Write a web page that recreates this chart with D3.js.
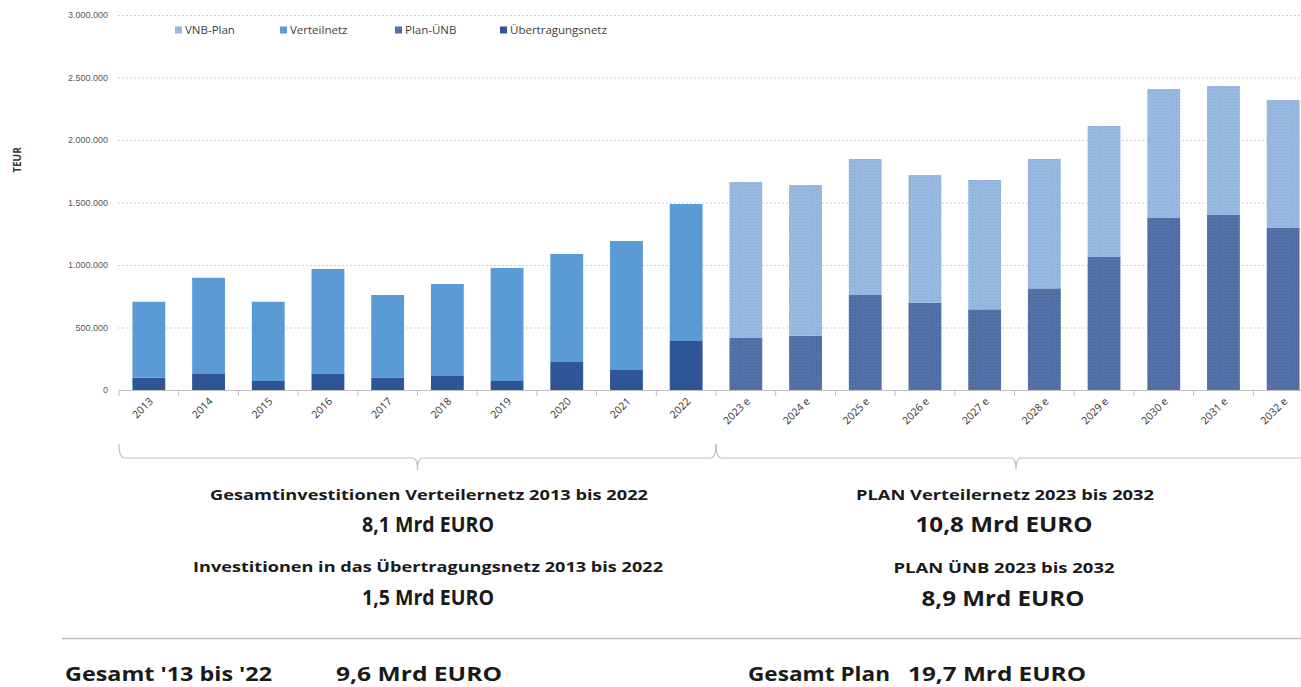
<!DOCTYPE html>
<html>
<head>
<meta charset="utf-8">
<script src="https://cdn.jsdelivr.net/npm/d3@7"></script>
<style>
  body { margin: 0; background: #fff; }
  text { font-family: "Open Sans", "Noto Sans", sans-serif; }
</style>
</head>
<body>
<div id="chart"></div>
<script>
// years and values (TEUR)
var years = ["2013","2014","2015","2016","2017","2018","2019","2020","2021","2022",
             "2023 e","2024 e","2025 e","2026 e","2027 e","2028 e","2029 e","2030 e","2031 e","2032 e"];
var uebertragungsnetz = [99,128,72,133,100,112,72,224,160,392, 0,0,0,0,0,0,0,0,0,0];
var verteilnetz = [607,770,634,835,660,736,904,864,1032,1096, 0,0,0,0,0,0,0,0,0,0];
var planUenb = [0,0,0,0,0,0,0,0,0,0, 416,435,760,699,645,813,1064,1376,1400,1296];
var vnbPlan = [0,0,0,0,0,0,0,0,0,0, 1248,1205,1088,1021,1035,1035,1048,1032,1032,1024];
var yTicks = [0, 500000, 1000000, 1500000, 2000000, 2500000, 3000000];

var seriesNames = ["VNB-Plan", "Verteilnetz", "Plan-ÜNB", "Übertragungsnetz"];
// stacking order from bottom to top
var stackKeys = ["Übertragungsnetz", "Plan-ÜNB", "Verteilnetz", "VNB-Plan"];

var rows = years.map(function(y, i) {
  return {
    year: y,
    "Übertragungsnetz": uebertragungsnetz[i] * 1000,
    "Plan-ÜNB": planUenb[i] * 1000,
    "Verteilnetz": verteilnetz[i] * 1000,
    "VNB-Plan": vnbPlan[i] * 1000
  };
});

var width = 1301, height = 687;

var svg = d3.select("#chart").append("svg")
  .attr("width", width)
  .attr("height", height);

// hatch-like patterns for the plan series
var defs = svg.append("defs");
function dotPattern(id, base, dot) {
  var p = defs.append("pattern")
    .attr("id", id)
    .attr("patternUnits", "userSpaceOnUse")
    .attr("width", 3).attr("height", 3);
  p.append("rect").attr("width", 3).attr("height", 3).attr("fill", base);
  p.append("rect").attr("x", 0).attr("y", 0).attr("width", 1).attr("height", 1).attr("fill", dot);
  p.append("rect").attr("x", 1.5).attr("y", 1.5).attr("width", 1).attr("height", 1).attr("fill", dot);
}
dotPattern("pVnb", "#9bbde3", "#7fa4d0");
dotPattern("pUenb", "#5774ab", "#3e5b95");

var color = {
  "VNB-Plan": "url(#pVnb)",
  "Verteilnetz": "#5b9bd5",
  "Plan-ÜNB": "url(#pUenb)",
  "Übertragungsnetz": "#2f5597"
};

var x = d3.scaleBand()
  .domain(years)
  .range([119, 1313])
  .paddingInner(0.45)
  .paddingOuter(0.225);

var y = d3.scaleLinear()
  .domain([0, 3000000])
  .range([390, 15]);

var de = d3.formatLocale({decimal: ",", thousands: ".", grouping: [3], currency: ["", "€"]});
var fmt = de.format(",");

// gridlines
svg.append("g")
  .selectAll("line")
  .data(yTicks.filter(function(d) { return d > 0; }))
  .enter().append("line")
    .attr("x1", 118).attr("x2", width)
    .attr("y1", function(d) { return y(d) + 0.5; })
    .attr("y2", function(d) { return y(d) + 0.5; })
    .attr("stroke", "#d0d0d0")
    .attr("stroke-dasharray", "2,2");

// y labels
var yAxis = svg.append("g")
  .attr("transform", "translate(118,0)")
  .call(d3.axisLeft(y).tickValues(yTicks).tickFormat(fmt).tickSize(0).tickPadding(10));
yAxis.select(".domain").remove();
yAxis.selectAll("text")
  .attr("fill", "#595959")
  .style("font-size", "9px")
  .style("font-family", "'Liberation Sans Narrow', 'Liberation Sans', sans-serif");

svg.append("text")
  .attr("transform", "translate(21,160) rotate(-90)")
  .attr("text-anchor", "middle")
  .attr("fill", "#333")
  .style("font-size", "10px")
  .style("font-weight", "bold")
  .text("TEUR");

// bars
var stacked = d3.stack().keys(stackKeys)(rows);
svg.append("g")
  .selectAll("g")
  .data(stacked)
  .enter().append("g")
    .attr("fill", function(d) { return color[d.key]; })
  .selectAll("rect")
  .data(function(d) { return d; })
  .enter().append("rect")
    .attr("x", function(d) { return x(d.data.year); })
    .attr("width", x.bandwidth())
    .attr("y", function(d) { return y(d[1]); })
    .attr("height", function(d) { return y(d[0]) - y(d[1]); });

// x axis with ticks between categories
var step = x.step();
var xAxisG = svg.append("g").attr("class", "xaxis");
xAxisG.append("line")
  .attr("x1", 119).attr("x2", 1313)
  .attr("y1", 390.5).attr("y2", 390.5)
  .attr("stroke", "#bfbfbf");
xAxisG.selectAll("line.tick")
  .data(d3.range(years.length + 1))
  .enter().append("line")
    .attr("class", "tick")
    .attr("x1", function(i) { return 119 + i * step; })
    .attr("x2", function(i) { return 119 + i * step; })
    .attr("y1", 390).attr("y2", 396)
    .attr("stroke", "#bfbfbf");
xAxisG.selectAll("text")
  .data(years)
  .enter().append("text")
    .attr("transform", function(d) {
      return "translate(" + (x(d) + x.bandwidth() / 2 + 5) + ",402) rotate(-45)";
    })
    .attr("text-anchor", "end")
    .attr("fill", "#333")
    .style("font-size", "10.5px")
    .text(function(d) { return d; });

// legend
var legendX = [175, 280, 395, 500];
var legend = svg.append("g")
  .selectAll("g")
  .data(seriesNames)
  .enter().append("g")
    .attr("transform", function(d, i) { return "translate(" + legendX[i] + ",30)"; });
legend.append("rect")
  .attr("x", 0).attr("y", -3.5)
  .attr("width", 7).attr("height", 7)
  .attr("fill", function(d) { return color[d]; });
legend.append("text")
  .attr("x", 10).attr("y", 4)
  .attr("fill", "#404040")
  .style("font-size", "11.5px")
  .text(function(d) { return d; });

// braces below the axis
function brace(x0, x1, yTop, yLine, yTip) {
  var m = (x0 + x1) / 2;
  return "M" + x0 + "," + yTop +
    " Q" + x0 + "," + yLine + " " + (x0 + 6) + "," + yLine +
    " L" + (m - 5) + "," + yLine +
    " Q" + m + "," + yLine + " " + m + "," + yTip +
    " Q" + m + "," + yLine + " " + (m + 5) + "," + yLine +
    " L" + (x1 - 6) + "," + yLine +
    " Q" + x1 + "," + yLine + " " + x1 + "," + yTop;
}
var splitX = x(years[10]) - x.step() * x.paddingInner() / 2;
svg.append("path")
  .attr("d", brace(119, splitX, 444, 458, 470))
  .attr("fill", "none").attr("stroke", "#bfbfbf").attr("stroke-width", 1.2);
svg.append("path")
  .attr("d", brace(splitX, 1316, 444, 458, 470))
  .attr("fill", "none").attr("stroke", "#bfbfbf").attr("stroke-width", 1.2);

// summary texts
var notes = [
  {t: "Gesamtinvestitionen Verteilernetz 2013 bis 2022", cx: 429, y: 500, s: 15, w: 438},
  {t: "8,1 Mrd EURO", cx: 428, y: 532, s: 22, w: 132},
  {t: "Investitionen in das Übertragungsnetz 2013 bis 2022", cx: 428, y: 572, s: 15, w: 470},
  {t: "1,5 Mrd EURO", cx: 428, y: 605, s: 22, w: 132},
  {t: "PLAN Verteilernetz 2023 bis 2032", cx: 1005, y: 500, s: 15, w: 298},
  {t: "10,8 Mrd EURO", cx: 1004, y: 532, s: 22, w: 177},
  {t: "PLAN ÜNB 2023 bis 2032", cx: 1004, y: 573, s: 15, w: 221},
  {t: "8,9 Mrd EURO", cx: 1003, y: 606, s: 22, w: 163}
];
svg.append("g")
  .selectAll("text")
  .data(notes)
  .enter().append("text")
    .attr("x", function(d) { return d.cx; })
    .attr("y", function(d) { return d.y; })
    .attr("text-anchor", "middle")
    .attr("fill", "#1a1a1a")
    .style("font-weight", "bold")
    .style("font-size", function(d) { return d.s + "px"; })
    .attr("textLength", function(d) { return d.w; })
    .attr("lengthAdjust", "spacingAndGlyphs")
    .text(function(d) { return d.t; });

svg.append("line")
  .attr("x1", 62).attr("x2", width)
  .attr("y1", 638.5).attr("y2", 638.5)
  .attr("stroke", "#bfbfbf").attr("stroke-width", 1.5);

var totals = [
  {t: "Gesamt '13 bis '22", x: 65, w: 207},
  {t: "9,6 Mrd EURO", x: 336, w: 166},
  {t: "Gesamt Plan", x: 748, w: 142},
  {t: "19,7 Mrd EURO", x: 908, w: 178}
];
svg.append("g")
  .selectAll("text")
  .data(totals)
  .enter().append("text")
    .attr("x", function(d) { return d.x; })
    .attr("y", 681)
    .attr("fill", "#1a1a1a")
    .style("font-weight", "bold")
    .style("font-size", "20px")
    .attr("textLength", function(d) { return d.w; })
    .attr("lengthAdjust", "spacingAndGlyphs")
    .text(function(d) { return d.t; });
</script>
</body>
</html>
